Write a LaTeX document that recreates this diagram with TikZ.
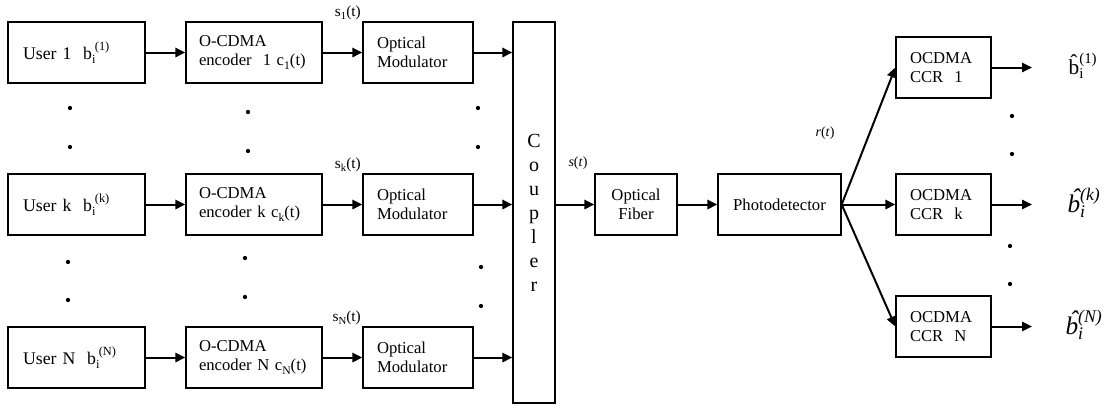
\documentclass[tikz,border=0pt]{standalone}
\usepackage{fontspec}
\setmainfont{Liberation Serif}
\usetikzlibrary{positioning,arrows.meta}

\makeatletter
\newcommand{\sm}{\fontsize{\strip@pt\dimexpr\f@size pt*7/10\relax}{0}\selectfont}
\makeatother
\newcommand{\dn}[1]{\raisebox{-0.45ex}{\sm #1}}
\newcommand{\up}[1]{\raisebox{1.15ex}{\sm #1}}
\newcommand{\bsup}[1]{b\dn{i}\kern-0.5pt\up{(#1)}}
% b with a circumflex put on top by hand
\newcommand{\hatb}[1][0em]{\ooalign{b\cr\hidewidth\kern#1\raisebox{0.5ex}{\char"02C6}\hidewidth\cr}}
\newcommand{\bhat}[1]{$\mbox{\itshape\hatb[0.15em]}_{\mbox{\sm\itshape i}}^{\mbox{\sm\itshape(#1)}}$}

\begin{document}
\begin{tikzpicture}[x=0.75pt,y=-0.75pt,
    blk/.style={draw,line width=1pt,minimum height=45.75pt,inner sep=0pt,align=left,
      font=\fontsize{12.5}{14.5}\selectfont},
    usr/.style={blk,minimum width=102.75pt,text width=80pt,font=\fontsize{13.3}{16}\selectfont},
    enc/.style={blk,minimum width=102pt,text width=82.5pt},
    mod/.style={blk,minimum width=82.5pt,text width=61.5pt},
    ccr/.style={blk,minimum width=71.25pt,text width=50.25pt},
    sig/.style={line width=1.5pt,-{Triangle[length=7.5pt,width=7pt]}},
    lbl/.style={inner sep=1pt,font=\fontsize{11.5}{13}\selectfont}]
  \useasboundingbox (0,0) rectangle (1106,404);

  \node[usr] (u1) at (76.5,52.5)  {User 1~~\bsup{1}};
  \node[usr] (uk) at (76.5,204.5) {User k~~\bsup{k}};
  \node[usr] (uN) at (76.5,357.5) {User N~~\bsup{N}};

  \node[enc] (e1) at (254,52.5)  {O-CDMA\\encoder~~1 c\dn{1}(t)};
  \node[enc] (ek) at (254,204.5) {O-CDMA\\encoder k c\dn{k}(t)};
  \node[enc] (eN) at (254,357.5) {O-CDMA\\encoder N c\dn{N}(t)};

  \node[mod] (m1) at (418,52.5)  {Optical\\Modulator};
  \node[mod] (mk) at (418,204.5) {Optical\\Modulator};
  \node[mod] (mN) at (418,357.5) {Optical\\Modulator};

  \node[draw,line width=1pt,minimum width=31.5pt,minimum height=285.75pt,inner sep=0pt,
    align=center,font=\fontsize{15}{18}\selectfont] (cp) at (534,212.5) {C\\o\\u\\p\\l\\e\\r};

  \node[blk,minimum width=61.5pt,align=center] (fb) at (636,204.5) {Optical\\Fiber};
  \node[blk,minimum width=92.25pt] (pd) at (779.5,204.5) {Photodetector};

  \node[ccr] (c1) at (943.5,67.5)  {OCDMA\\CCR~~1};
  \node[ccr] (ck) at (943.5,204.5) {OCDMA\\CCR~~k};
  \node[ccr] (cN) at (943.5,326.5) {OCDMA\\CCR~~N};

  \coordinate (o1) at (1032,67.5);
  \coordinate (ok) at (1032,204.5);
  \coordinate (oN) at (1032,326.5);

  \draw[sig] (u1) -- (e1);
  \draw[sig] (uk) -- (ek);
  \draw[sig] (uN) -- (eN);
  \draw[sig] (e1) -- (m1);
  \draw[sig] (ek) -- (mk);
  \draw[sig] (eN) -- (mN);
  \draw[sig] (m1.east) -- (m1.east -| cp.west);
  \draw[sig] (mk.east) -- (mk.east -| cp.west);
  \draw[sig] (mN.east) -- (mN.east -| cp.west);
  \draw[sig] (cp.east |- fb.west) -- (fb.west);
  \draw[sig] (fb) -- (pd);
  \draw[sig] (pd.east) -- (c1.west);
  \draw[sig] (pd.east) -- (ck.west);
  \draw[sig] (pd.east) -- (cN.west);
  \draw[sig] (c1) -- (o1);
  \draw[sig] (ck) -- (ok);
  \draw[sig] (cN) -- (oN);

  \node[lbl,anchor=south east] (s1) at (m1.north west) {s\dn{1}(t)};
  \node[lbl,anchor=south east] (sk) at (mk.north west) {s\dn{k}(t)};
  \node[lbl,anchor=south east] (sN) at (mN.north west) {s\dn{N}(t)};
  \node[lbl,font=\fontsize{10.5}{12}\selectfont] (st) at (578,163) {\textit{s}(\textit{t})};
  \node[lbl,font=\fontsize{10.5}{12}\selectfont] (rt) at (825,133) {\textit{r}(\textit{t})};

  \node[font=\fontsize{16}{18}\selectfont] (b1) at (1083,66)
    {$\mbox{\hatb}_{\mbox{\sm i}}^{\mbox{\sm(1)}}$};
  \node[font=\fontsize{19}{21}\selectfont] (bk) at (1084,203) {\bhat{k}};
  \node[font=\fontsize{19}{21}\selectfont] (bN) at (1084,325) {\bhat{N}};

  \foreach \x/\y in {70/108,70/147,68/262,68/300,248/112,248/151,245/258,245/297,
      478/108,478/147,481/267,481/306,1012/116,1012/154,1010/246,1010/284}
    \fill (\x,\y) circle (1.6pt);
\end{tikzpicture}
\end{document}
